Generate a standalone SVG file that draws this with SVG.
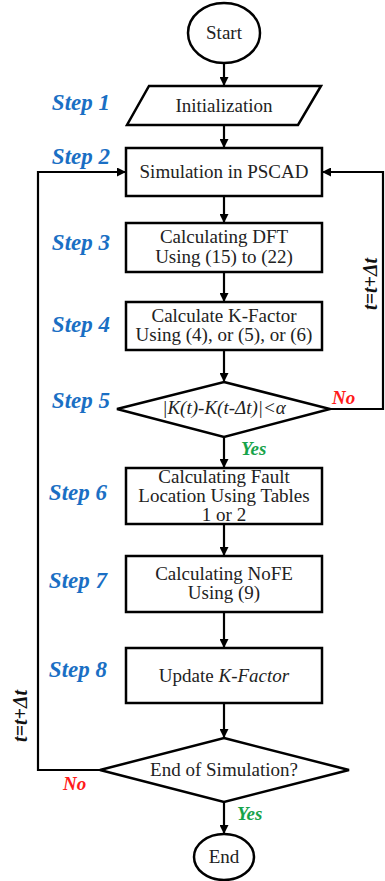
<svg xmlns="http://www.w3.org/2000/svg" width="385" height="881" viewBox="0 0 385 881">
<defs>
<marker id="arr" viewBox="0 0 10 10" refX="10" refY="5" markerWidth="10" markerHeight="9" markerUnits="userSpaceOnUse" orient="auto">
<path d="M0,0 L10,5 L0,10 z" fill="#000"/>
</marker>
<style>
.shape{fill:#fff;stroke:#000;stroke-width:2.5}
.t{font-family:"Liberation Serif","Times New Roman",serif;font-size:19px;fill:#222;text-anchor:middle}
.step{font-family:"Liberation Serif","Times New Roman",serif;font-size:23px;font-weight:bold;font-style:italic;fill:#1a6fc4;text-anchor:end}
.no{font-family:"Liberation Serif","Times New Roman",serif;font-size:19px;font-weight:bold;font-style:italic;fill:#ff1a1a}
.yes{font-family:"Liberation Serif","Times New Roman",serif;font-size:19px;font-weight:bold;font-style:italic;fill:#17a34a}
.dt{font-family:"Liberation Serif","Times New Roman",serif;font-size:20px;font-weight:bold;font-style:italic;fill:#111;text-anchor:middle}
.c{fill:none;stroke:#000;stroke-width:2.2}
</style>
</defs>
<rect width="385" height="881" fill="#fff"/>
<g id="connectors">
<line class="c" x1="224" y1="63" x2="224" y2="86" marker-end="url(#arr)"/>
<line class="c" x1="224" y1="125" x2="224" y2="148" marker-end="url(#arr)"/>
<line class="c" x1="224" y1="196" x2="224" y2="223" marker-end="url(#arr)"/>
<line class="c" x1="224" y1="272" x2="224" y2="302" marker-end="url(#arr)"/>
<line class="c" x1="224" y1="350" x2="224" y2="382" marker-end="url(#arr)"/>
<line class="c" x1="224" y1="437" x2="224" y2="468" marker-end="url(#arr)"/>
<line class="c" x1="224" y1="524" x2="224" y2="556" marker-end="url(#arr)"/>
<line class="c" x1="224" y1="612" x2="224" y2="648" marker-end="url(#arr)"/>
<line class="c" x1="224" y1="703" x2="224" y2="738" marker-end="url(#arr)"/>
<line class="c" x1="224" y1="802" x2="224" y2="834" marker-end="url(#arr)"/>
<polyline class="c" points="330,409 383,409 383,172 322,172" marker-end="url(#arr)"/>
<polyline class="c" points="100,770 38,770 38,172 126,172" marker-end="url(#arr)"/>
<text class="no" x="332" y="404">No</text>
<text class="yes" x="241" y="455">Yes</text>
<text class="no" x="63" y="790">No</text>
<text class="yes" x="237" y="820">Yes</text>
<text class="dt" transform="translate(377,284) rotate(-90)">t=t+Δt</text>
<text class="dt" transform="translate(27,716) rotate(-90)">t=t+Δt</text>
</g>
<g id="labels">
<text class="step" x="110" y="110">Step 1</text>
<text class="step" x="110" y="164">Step 2</text>
<text class="step" x="110" y="250">Step 3</text>
<text class="step" x="110" y="332">Step 4</text>
<text class="step" x="110" y="408">Step 5</text>
<text class="step" x="107" y="500">Step 6</text>
<text class="step" x="107" y="588">Step 7</text>
<text class="step" x="107" y="677">Step 8</text>
</g>
<g id="start">
<ellipse class="shape" cx="224" cy="33" rx="36" ry="30"/>
<text class="t" x="224" y="39">Start</text>
</g>
<g id="init">
<polygon class="shape" points="149,86 321,86 298,125 127,125"/>
<text class="t" x="224" y="112">Initialization</text>
</g>
<g id="sim">
<rect class="shape" x="126" y="148" width="196" height="48"/>
<text class="t" x="224" y="178">Simulation in PSCAD</text>
</g>
<g id="dft">
<rect class="shape" x="126" y="223" width="196" height="49"/>
<text class="t" x="224" y="243">Calculating DFT</text>
<text class="t" x="224" y="263">Using (15) to (22)</text>
</g>
<g id="kfactor">
<rect class="shape" x="126" y="302" width="196" height="48"/>
<text class="t" x="224" y="322">Calculate K-Factor</text>
<text class="t" x="224" y="341">Using (4), or (5), or (6)</text>
</g>
<g id="check">
<polygon class="shape" points="224,382 330,409 224,437 117,409"/>
<text class="t" x="224" y="414" font-style="italic">|K(t)-K(t-Δt)|&lt;α</text>
</g>
<g id="fault">
<rect class="shape" x="126" y="468" width="196" height="56"/>
<text class="t" x="224" y="483">Calculating Fault</text>
<text class="t" x="224" y="502">Location Using Tables</text>
<text class="t" x="224" y="521">1 or 2</text>
</g>
<g id="nofe">
<rect class="shape" x="126" y="556" width="196" height="56"/>
<text class="t" x="224" y="580">Calculating NoFE</text>
<text class="t" x="224" y="599">Using (9)</text>
</g>
<g id="update">
<rect class="shape" x="126" y="648" width="196" height="55"/>
<text class="t" x="224" y="682">Update <tspan font-style="italic">K-Factor</tspan></text>
</g>
<g id="endcheck">
<polygon class="shape" points="224,738 349,770 224,802 100,770"/>
<text class="t" x="224" y="776">End of Simulation?</text>
</g>
<g id="end">
<ellipse class="shape" cx="224" cy="857" rx="30" ry="23"/>
<text class="t" x="224" y="863">End</text>
</g>
</svg>
